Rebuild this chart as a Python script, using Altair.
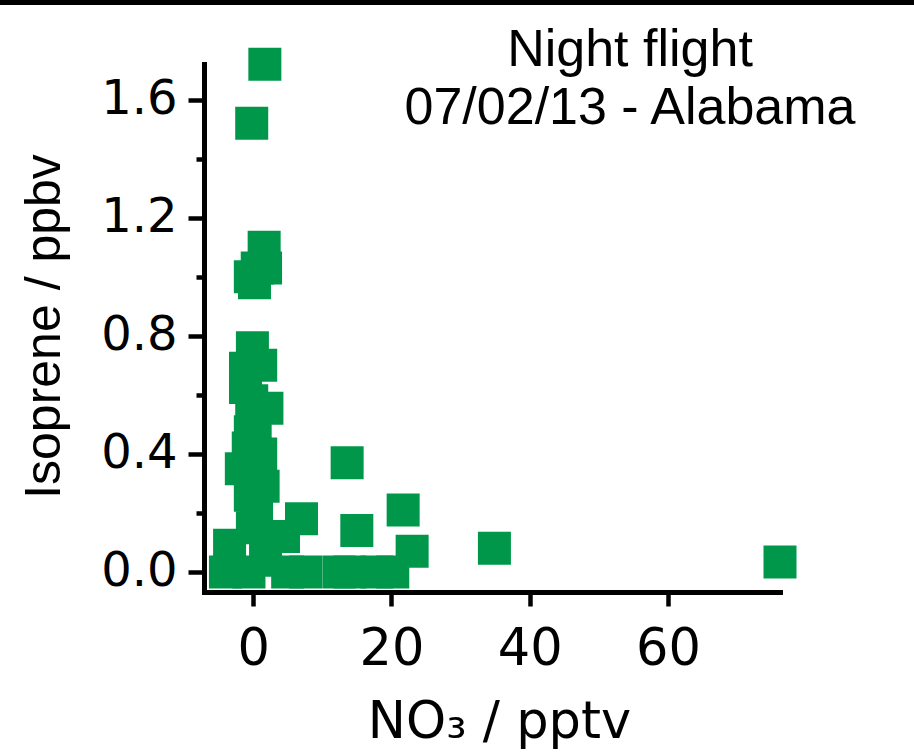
import altair as alt
import pandas as pd

# ---- data ----
no3_pptv = [1.7, -0.2, 1.6, 1.8, 0.6, -0.4, 0.2, -0.1, 1.1, -1.1, -1.1, -0.2, 2.0, 0.3,
            -0.4, -0.7, 1.1, -1.7, 0.0, 1.45, -0.4, 0.5, -0.1, -3.4, -4.0, -0.6, 1.8,
            4.4, 5.0, 7.0, 7.6, 12.4, 14.0, 13.6, 15.0, 17.9, 20.2, 21.7, 23.0, 34.9, 76.2]
isoprene_ppbv = [1.72, 1.52, 1.10, 1.03, 1.03, 1.00, 0.98, 0.76, 0.70, 0.69, 0.625, 0.58, 0.555, 0.50,
                 0.475, 0.42, 0.40, 0.35, 0.34, 0.29, 0.26, 0.23, 0.15, 0.09, 0.0, 0.0, 0.04,
                 0.12, 0.0, 0.18, 0.0, 0.0, 0.0, 0.37, 0.14, 0.0, 0.0, 0.21, 0.07, 0.08, 0.034]
x_tick_values = [0, 20, 40, 60]
y_tick_values = [0.0, 0.2, 0.4, 0.6, 0.8, 1.0, 1.2, 1.4, 1.6]
title_lines = ["Night flight", "07/02/13 - Alabama"]
x_title = "NO\u2083 / pptv"
y_title = "Isoprene / ppbv"

df = pd.DataFrame({"no3": no3_pptv, "isoprene": isoprene_ppbv})

W, H = 576, 528
GREEN = "#00974A"
LABEL_FONT = "DejaVu Sans"

points = alt.Chart(df).mark_point(
    shape="square", filled=True, size=1089, color=GREEN, opacity=1, strokeWidth=0
).encode(
    x=alt.X("no3:Q",
            scale=alt.Scale(domain=[-7.1, 76.2], nice=False, zero=False),
            axis=alt.Axis(values=x_tick_values, title=x_title, format="d",
                          tickSize=14, tickWidth=4.5, domainWidth=5,
                          labelFontSize=51, labelPadding=18,
                          titleFontSize=51, titleFont=LABEL_FONT, titleFontWeight="normal",
                          titleX=295, titleY=145, titleBaseline="alphabetic",
                          titleAlign="center")),
    y=alt.Y("isoprene:Q",
            scale=alt.Scale(domain=[-0.068, 1.721], nice=False, zero=False),
            axis=alt.Axis(values=y_tick_values,
                          labelExpr="round(datum.value*10) % 4 == 0 ? format(datum.value, '.1f') : ''",
                          tickSize={"condition": {"test": "round(datum.value*10) % 4 == 0", "value": 16},
                                    "value": 8},
                          tickWidth=4.5, domainWidth=5,
                          labelFontSize=48, labelPadding=11,
                          title=y_title, titleFontSize=50, titleFont="Liberation Sans",
                          titleFontWeight="normal", titleAngle=-90, titleX=-145, titleY=262,
                          titleBaseline="alphabetic", titleAlign="center")),
)

t1 = alt.Chart(pd.DataFrame({"t": [title_lines[0]]})).mark_text(
    font="Liberation Sans", fontSize=52, align="center", baseline="alphabetic", color="black"
).encode(text="t:N", x=alt.value(426), y=alt.value(2))

t2 = alt.Chart(pd.DataFrame({"t": [title_lines[1]]})).mark_text(
    font="Liberation Sans", fontSize=52, align="center", baseline="alphabetic", color="black"
).encode(text="t:N", x=alt.value(426), y=alt.value(60))

top_bar = alt.Chart(pd.DataFrame({"k": [0]})).mark_rule(color="black", strokeWidth=5).encode(
    x=alt.value(-210), x2=alt.value(720), y=alt.value(-61.5)
)

chart = alt.layer(points, t1, t2, top_bar).properties(
    width=W, height=H,
    padding={"left": 204, "top": 64, "right": 134, "bottom": 162},
    autosize=alt.AutoSizeParams(type="none"),
    background="white",
).configure_view(stroke=None).configure_axis(
    grid=False, domainColor="black", tickColor="black",
    labelColor="black", titleColor="black", labelFont=LABEL_FONT, tickCap="butt",
    domainCap="square"
)

chart.save("out.html", embed_options={"renderer": "svg", "actions": False})
